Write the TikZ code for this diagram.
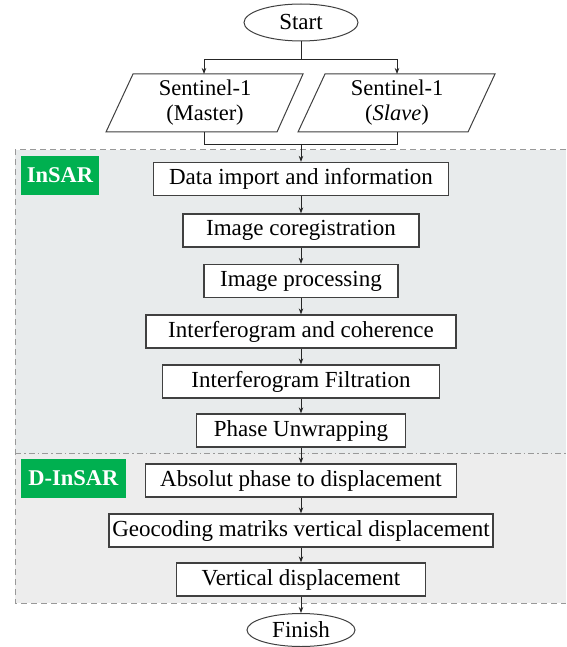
\documentclass[tikz,border=0pt]{standalone}
\usepackage{fontspec}
\setmainfont{Liberation Serif}
\usetikzlibrary{arrows.meta,shapes.geometric}
\definecolor{insarbg}{HTML}{E8EBEC}
\definecolor{dinsarbg}{HTML}{EDEDED}
\definecolor{labgreen}{HTML}{00B050}
\definecolor{edgecol}{HTML}{404040}
\begin{document}
\begin{tikzpicture}[x=1pt,y=-1pt,
  boxnode/.style={draw=edgecol,line width=1.3pt,fill=white,minimum height=33pt,inner sep=0pt,font=\fontsize{23}{27}\selectfont},
  termnode/.style={ellipse,draw=edgecol,line width=1pt,fill=white,inner sep=0pt,font=\fontsize{23}{27}\selectfont},
  iotext/.style={inner sep=0pt,align=center,font=\fontsize{22.5}{25}\selectfont},
  ioshape/.style={draw=edgecol,line width=1pt,fill=white},
  conn/.style={line width=0.9pt,black!85},
  arr/.style={conn,-{Stealth[length=6pt,width=4.5pt]}},
  grouplab/.style={fill=labgreen,text=white,inner sep=0pt,font=\bfseries\fontsize{22.5}{26}\selectfont},
  groupborder/.style={draw=gray!80,line width=1pt,dash pattern=on 6pt off 4pt},
  groupsplit/.style={draw=gray!80,line width=1pt,dash pattern=on 6pt off 3pt on 1.5pt off 3pt}]
\useasboundingbox (0,0) rectangle (566,647);

% group backgrounds
\fill[insarbg] (15,150) rectangle (566,453);
\fill[dinsarbg] (15,453) rectangle (566,603);
\draw[groupborder] (566,150) -- (15,150) -- (15,603) -- (566,603);
\draw[groupsplit] (15,453) -- (566,453);
\node[grouplab,minimum width=78pt,minimum height=39pt] (labinsar) at (60,175.5) {InSAR};
\node[grouplab,minimum width=105pt,minimum height=39pt] (labdinsar) at (73.5,478.5) {D-InSAR};

% start
\node[termnode,minimum width=114pt,minimum height=37pt] (start) at (301,22.5) {Start};

% input parallelograms
\draw[ioshape] (133,74) -- (303,74) -- (277,132) -- (106,132) -- cycle;
\draw[ioshape] (325,74) -- (495,74) -- (468,132) -- (298,132) -- cycle;
\node[iotext] (master) at (205,103) {Sentinel-1\\(Master)};
\node[iotext] (slave) at (397,103) {Sentinel-1\\(\textit{Slave})};

\coordinate (split) at (301,59);
\coordinate (splitl) at (204,59);
\coordinate (splitr) at (397,59);
\coordinate (masterin) at (204,74);
\coordinate (slavein) at (397,74);
\coordinate (masterout) at (204,132);
\coordinate (slaveout) at (397,132);
\coordinate (joinl) at (204,144);
\coordinate (joinr) at (397,144);
\coordinate (join) at (301,144);

% process boxes
\node[boxnode,minimum width=295pt] (b1) at (301,179) {Data import and information};
\node[boxnode,minimum width=236pt] (b2) at (301,230.5) {Image coregistration};
\node[boxnode,minimum width=194pt] (b3) at (301,281) {Image processing};
\node[boxnode,minimum width=310pt] (b4) at (301,331.5) {Interferogram and coherence};
\node[boxnode,minimum width=277pt] (b5) at (301,381.5) {Interferogram Filtration};
\node[boxnode,minimum width=209pt] (b6) at (301,430.5) {Phase Unwrapping};
\node[boxnode,minimum width=311pt] (b7) at (301,480.5) {Absolut phase to displacement};
\node[boxnode,minimum width=384pt] (b8) at (301,530.5) {Geocoding matriks vertical displacement};
\node[boxnode,minimum width=249pt] (b9) at (301,579.5) {Vertical displacement};

% finish
\node[termnode,minimum width=108pt,minimum height=33pt] (finish) at (301,630) {Finish};

% connectors
\draw[conn] (start.south) -- (split);
\draw[arr] (split) -- (splitl) -- (masterin);
\draw[arr] (split) -- (splitr) -- (slavein);
\draw[conn] (masterout) -- (joinl) -- (joinr) -- (slaveout);
\draw[arr] (join) -- (b1.north);
\draw[arr] (b1) -- (b2);
\draw[arr] (b2) -- (b3);
\draw[arr] (b3) -- (b4);
\draw[arr] (b4) -- (b5);
\draw[arr] (b5) -- (b6);
\draw[arr] (b6) -- (b7);
\draw[arr] (b7) -- (b8);
\draw[arr] (b8) -- (b9);
\draw[arr] (b9) -- (finish);
\end{tikzpicture}
\end{document}
